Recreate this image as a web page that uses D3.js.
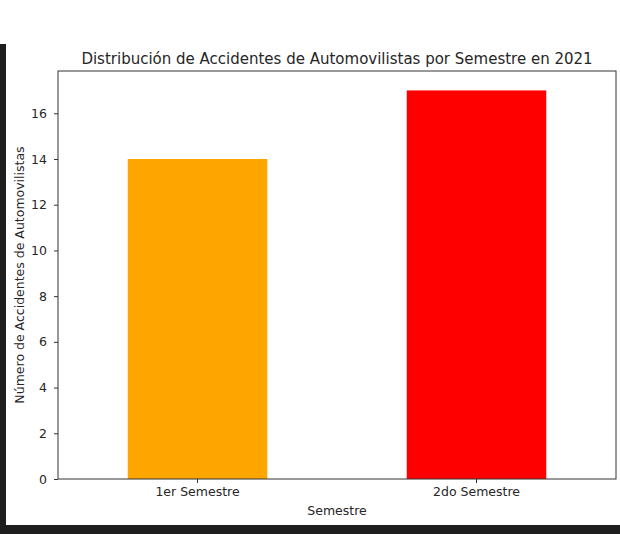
<!DOCTYPE html>
<html lang="es">
<head>
    <meta charset="UTF-8">
    <title>Distribución de Accidentes de Automovilistas por Semestre en 2021</title>
    <script src="https://d3js.org/d3.v7.min.js"></script>
    <style>
        body { margin: 0; background: #ffffff; }
        svg { display: block; font-family: "DejaVu Sans", sans-serif; }
    </style>
</head>
<body>
    <svg id="chart" width="620" height="534"></svg>

    <script>
        // Data
        const categories = ['1er Semestre', '2do Semestre'];
        const accidents = [14, 17];
        const barColors = ['#ffa500', '#ff0000'];
        const yTicks = [0, 2, 4, 6, 8, 10, 12, 14, 16];

        const svg = d3.select('#chart');
        const W = 620, H = 534;
        const plot = { left: 58, right: 616, top: 71, bottom: 479 };
        const inkColor = '#333333';
        const textColor = '#262626';

        // Dark notebook frame (left strip and bottom band)
        svg.append('rect').attr('x', 0).attr('y', 0).attr('width', W).attr('height', H).attr('fill', '#ffffff');
        svg.append('rect').attr('x', 0).attr('y', 44).attr('width', 6).attr('height', H - 44).attr('fill', '#1e1e1e');
        svg.append('rect').attr('x', 0).attr('y', 525).attr('width', W).attr('height', H - 525).attr('fill', '#1e1e1e');

        const x = d3.scaleBand()
            .domain(categories)
            .range([plot.left, plot.right])
            .paddingInner(0.5)
            .paddingOuter(0.25);

        const yMax = d3.max(accidents) * 1.05;
        const y = d3.scaleLinear()
            .domain([0, yMax])
            .range([plot.bottom, plot.top]);

        // Bars
        svg.append('g')
            .selectAll('rect')
            .data(categories)
            .join('rect')
            .attr('x', d => x(d))
            .attr('y', (d, i) => y(accidents[i]))
            .attr('width', x.bandwidth())
            .attr('height', (d, i) => y(0) - y(accidents[i]))
            .attr('fill', (d, i) => barColors[i]);

        // Axes
        const yAxis = svg.append('g')
            .attr('transform', `translate(${plot.left},0)`)
            .call(d3.axisLeft(y).tickValues(yTicks).tickSize(4).tickPadding(7));

        const xAxis = svg.append('g')
            .attr('transform', `translate(0,${plot.bottom})`)
            .call(d3.axisBottom(x).tickSize(4).tickPadding(4));

        [xAxis, yAxis].forEach(g => {
            g.select('.domain').remove();
            g.selectAll('.tick line').attr('stroke', inkColor);
            g.selectAll('.tick text')
                .attr('fill', textColor)
                .style('font-size', '12.5px')
                .style('font-family', '"DejaVu Sans", sans-serif');
        });

        // Axes frame
        svg.append('rect')
            .attr('x', plot.left)
            .attr('y', plot.top)
            .attr('width', plot.right - plot.left)
            .attr('height', plot.bottom - plot.top)
            .attr('fill', 'none')
            .attr('stroke', inkColor)
            .attr('stroke-width', 1);

        // Title and axis labels
        svg.append('text')
            .attr('x', (plot.left + plot.right) / 2)
            .attr('y', 64)
            .attr('text-anchor', 'middle')
            .attr('fill', textColor)
            .style('font-size', '15px')
            .text('Distribución de Accidentes de Automovilistas por Semestre en 2021');

        svg.append('text')
            .attr('x', (plot.left + plot.right) / 2)
            .attr('y', 515)
            .attr('text-anchor', 'middle')
            .attr('fill', textColor)
            .style('font-size', '12.5px')
            .text('Semestre');

        svg.append('text')
            .attr('transform', `translate(24,${(plot.top + plot.bottom) / 2}) rotate(-90)`)
            .attr('text-anchor', 'middle')
            .attr('fill', textColor)
            .style('font-size', '12.5px')
            .text('Número de Accidentes de Automovilistas');
    </script>
</body>
</html>
